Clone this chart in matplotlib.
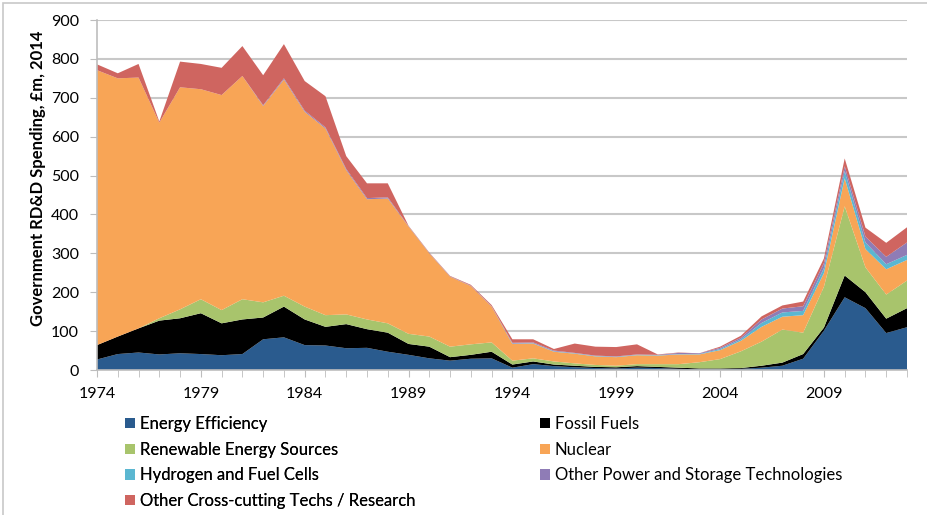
import matplotlib
matplotlib.use("Agg")
import matplotlib.pyplot as plt
from matplotlib.patches import Patch, Rectangle
import numpy as np

plt.rcParams['font.family'] = ['Lato', 'DejaVu Sans']

years = list(range(1974, 2014))

energy_efficiency = [27, 41, 45, 40, 43, 41, 38, 41, 79, 84, 64, 63, 56, 57, 47, 39, 30, 24, 29, 30,
                     6, 15, 10, 7, 5, 4, 6, 5, 3, 2, 2, 3, 6, 11, 29, 101, 187, 159, 95, 110]
fossil_fuels = [37, 45, 62, 87, 90, 105, 82, 89, 56, 79, 66, 48, 62, 48, 49, 28, 30, 9, 10, 17,
                8, 7, 4, 4, 3, 3, 4, 3, 3, 2, 2, 2, 5, 8, 12, 8, 56, 41, 37, 49]
renewables = [0, 0, 0, 6, 23, 36, 34, 52, 39, 28, 33, 30, 25, 25, 24, 26, 26, 27, 27, 24,
              10, 8, 8, 6, 5, 4, 5, 7, 9, 16, 24, 43, 62, 85, 55, 105, 178, 64, 62, 71]
nuclear = [707, 664, 645, 503, 571, 540, 553, 574, 505, 556, 501, 480, 371, 309, 321, 276, 214, 180, 150, 92,
           43, 38, 25, 25, 22, 22, 23, 22, 25, 20, 23, 27, 38, 33, 45, 35, 72, 47, 65, 53]
hydrogen = [0, 0, 0, 0, 0, 0, 0, 0, 0, 0, 0, 0, 0, 0, 0, 0, 0, 0, 0, 0,
            1, 1, 1, 1, 1, 1, 1, 1, 1, 1, 3, 4, 10, 11, 11, 13, 19, 17, 13, 13]
other_power = [0, 0, 0, 0, 0, 0, 0, 0, 2, 3, 3, 3, 3, 3, 3, 1, 1, 1, 1, 1,
               2, 2, 2, 1, 1, 1, 1, 1, 3, 2, 3, 4, 9, 10, 12, 13, 12, 15, 19, 32]
cross_cutting = [15, 13, 35, 3, 66, 65, 70, 77, 77, 88, 76, 80, 33, 38, 36, 1, 1, 1, 2, 3,
                 9, 8, 4, 24, 23, 24, 26, 1, 1, 0, 3, 5, 8, 8, 12, 12, 20, 23, 36, 39]

labels = ["Energy Efficiency", "Fossil Fuels", "Renewable Energy Sources", "Nuclear",
          "Hydrogen and Fuel Cells", "Other Power and Storage Technologies",
          "Other Cross-cutting Techs / Research"]
colors = ["#2A5B8E", "#000000", "#A8C46C", "#F8A556", "#5BB7D1", "#8F7CB6", "#CF6560"]

fig = plt.figure(figsize=(9.28, 5.15), dpi=100)
ax = fig.add_axes([97/928, 1-370/515, (907-97)/928, (370-20)/515])

series = [energy_efficiency, fossil_fuels, renewables, nuclear, hydrogen, other_power, cross_cutting]
ax.stackplot(years, *series, colors=colors, linewidth=0, zorder=2)

ax.set_xlim(1974, 2013)
ax.set_ylim(0, 900)
ax.set_yticks(range(0, 901, 100))
ax.set_xticks(range(1974, 2014, 5))
ax.set_xticks(range(1974, 2014), minor=True)
ax.yaxis.grid(True, color="#C8C8C8", linewidth=1.5, zorder=0)
ax.set_axisbelow(True)
for s in ["top", "right"]:
    ax.spines[s].set_visible(False)
for s in ["left", "bottom"]:
    ax.spines[s].set_color("#BDBDBD")
    ax.spines[s].set_linewidth(1.2)
ax.tick_params(axis="y", length=5, color="#BDBDBD", labelsize=11.5, pad=8)
ax.tick_params(axis="x", which="both", length=5, color="#BDBDBD", labelsize=11.5, pad=7)

fig.text(38/928, 1-178/515, "Government RD&D Spending, £m, 2014", rotation=90,
         ha="center", va="center", fontsize=12, fontweight="bold")

handles = [Patch(facecolor=c, edgecolor="none") for c in colors]
col1 = [0, 2, 4, 6]
col2 = [1, 3, 5]
common = dict(loc="upper left", frameon=False, fontsize=12, handlelength=0.6, handleheight=0.6,
              handletextpad=0.3, labelspacing=0.58, borderaxespad=0, borderpad=0)
leg1 = fig.legend([handles[i] for i in col1], [labels[i] for i in col1],
                  bbox_to_anchor=(125/928, 1-416/515), **common)
leg2 = fig.legend([handles[i] for i in col2], [labels[i] for i in col2],
                  bbox_to_anchor=(540/928, 1-416/515), **common)
fig.add_artist(leg1)

fig.patches.append(Rectangle((3/928, -0.1), 1.2, 1 - 3/515 + 0.1, transform=fig.transFigure,
                             fill=False, edgecolor="#C8C8C8", linewidth=1.2))

fig.savefig("out.png", dpi=100)
